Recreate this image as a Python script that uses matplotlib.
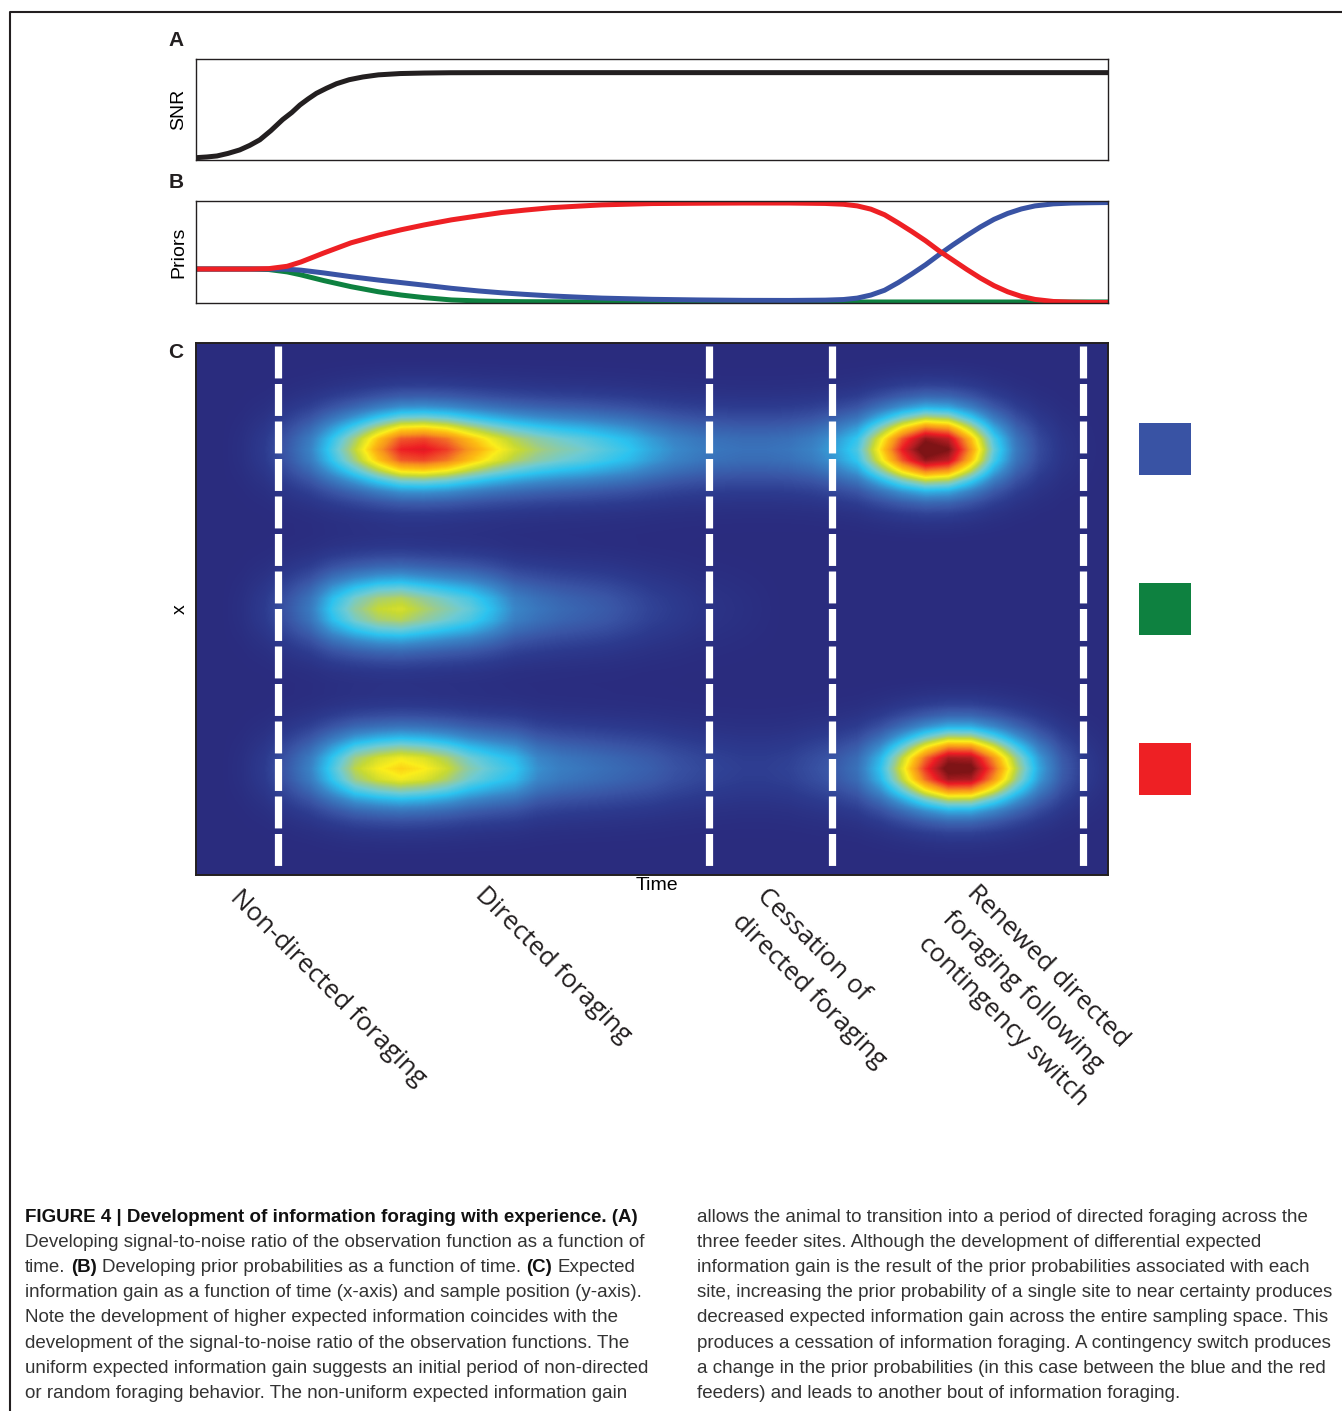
import numpy as np
import matplotlib
matplotlib.use('Agg')
import matplotlib.pyplot as plt
from matplotlib.colors import LinearSegmentedColormap
from matplotlib.lines import Line2D

plt.rcParams['font.family'] = ['Liberation Sans', 'DejaVu Sans']
plt.rcParams['lines.scale_dashes'] = False

W, H = 1342, 1411

# ---------------- data (time scaled 0..1) ----------------
# A: signal-to-noise ratio
snr_time = [0.0, 0.012, 0.023, 0.035, 0.048, 0.059, 0.07, 0.082, 0.095, 0.105,
            0.114, 0.123, 0.132, 0.143, 0.154, 0.168, 0.183, 0.20, 0.224, 0.25,
            0.279, 0.33, 0.4, 0.6, 0.8, 1.0]
snr_value = [0.023, 0.03, 0.04, 0.065, 0.10, 0.145, 0.20, 0.29, 0.40, 0.47,
             0.545, 0.605, 0.66, 0.71, 0.755, 0.795, 0.822, 0.843, 0.856, 0.861,
             0.864, 0.865, 0.865, 0.865, 0.865, 0.865]

# B: prior probabilities of the three feeders
prior_time = [0.0, 0.06, 0.08, 0.10, 0.115, 0.14, 0.17, 0.20, 0.225, 0.25,
              0.28, 0.31, 0.335, 0.36, 0.39, 0.42, 0.445, 0.50, 0.55, 0.60,
              0.65, 0.69, 0.71, 0.725, 0.74, 0.755, 0.77, 0.785, 0.80, 0.815,
              0.83, 0.845, 0.86, 0.875, 0.89, 0.905, 0.92, 0.94, 0.96, 0.98, 1.0]
prior_red = [0.333, 0.333, 0.337, 0.36, 0.402, 0.49, 0.59, 0.665, 0.718, 0.765,
             0.815, 0.855, 0.887, 0.91, 0.935, 0.95, 0.962, 0.975, 0.978, 0.98,
             0.98, 0.976, 0.968, 0.952, 0.92, 0.865, 0.785, 0.70, 0.61, 0.51,
             0.42, 0.33, 0.245, 0.17, 0.11, 0.065, 0.035, 0.015, 0.008, 0.005, 0.005]
prior_blue = [0.333, 0.333, 0.333, 0.331, 0.322, 0.295, 0.258, 0.225, 0.20, 0.175,
              0.144, 0.118, 0.10, 0.085, 0.069, 0.057, 0.048, 0.036, 0.03, 0.026,
              0.025, 0.028, 0.034, 0.048, 0.078, 0.125, 0.20, 0.285, 0.375, 0.475,
              0.57, 0.66, 0.745, 0.82, 0.878, 0.922, 0.952, 0.972, 0.98, 0.983, 0.985]
prior_green = [0.333, 0.333, 0.328, 0.305, 0.276, 0.22, 0.16, 0.11, 0.078, 0.053,
               0.03, 0.02, 0.015, 0.013, 0.012, 0.011, 0.01, 0.01, 0.01, 0.01,
               0.01, 0.01, 0.01, 0.01, 0.01, 0.01, 0.01, 0.01, 0.01, 0.01,
               0.01, 0.01, 0.01, 0.01, 0.01, 0.01, 0.01, 0.01, 0.01, 0.01, 0.01]

# C: expected information gain at each feeder row, sampled every 0.025 of time
heat_step = 0.025
gain_blue = [0.0, 0.0, 0.02, 0.06, 0.14, 0.24, 0.40, 0.56, 0.73, 0.87,
             0.89, 0.84, 0.74, 0.65, 0.575, 0.52, 0.48, 0.45, 0.41, 0.37,
             0.31, 0.26, 0.23, 0.21, 0.20, 0.20, 0.21, 0.24, 0.30, 0.40,
             0.64, 0.88, 1.05, 1.0, 0.74, 0.43, 0.22, 0.10, 0.04, 0.015, 0.0]
gain_green = [0.0, 0.0, 0.02, 0.06, 0.13, 0.22, 0.38, 0.49, 0.56, 0.58,
              0.53, 0.48, 0.43, 0.35, 0.25, 0.21, 0.18, 0.16, 0.14, 0.11,
              0.08, 0.06, 0.04, 0.03, 0.02, 0.01, 0.0, 0.0, 0.0, 0.0,
              0.0, 0.0, 0.0, 0.0, 0.0, 0.0, 0.0, 0.0, 0.0, 0.0, 0.0]
gain_red = [0.0, 0.0, 0.02, 0.06, 0.14, 0.24, 0.40, 0.55, 0.62, 0.66,
            0.63, 0.57, 0.48, 0.42, 0.37, 0.27, 0.23, 0.21, 0.19, 0.17,
            0.15, 0.12, 0.10, 0.08, 0.07, 0.07, 0.08, 0.11, 0.14, 0.20,
            0.36, 0.60, 0.85, 1.03, 1.02, 0.80, 0.54, 0.31, 0.15, 0.06, 0.02]
# relative gain at 0,1,2,... rows (0.02 apart) away from a feeder row
row_step = 0.02
spread = [1.0, 0.93, 0.74, 0.51, 0.31, 0.17, 0.08, 0.035, 0.012]

feeder_pos = [0.8, 0.5, 0.2]
feeder_colors = ['#3953A4', '#0E8140', '#EE2024']
phase_bounds = [0.090, 0.563, 0.697, 0.973]
phase_labels = [['Non-directed foraging'],
                ['Directed foraging'],
                ['Cessation of', 'directed foraging'],
                ['Renewed directed', 'foraging following', 'contingency switch']]
phase_anchor = [(229, 899), (474, 896), (756, 897), (966, 894)]

caption_left = [
    [('FIGURE 4 | Development of information foraging with experience. (A)', True)],
    [('Developing signal-to-noise ratio of the observation function as a function of', False)],
    [('time.', False), ('(B)', True), ('Developing prior probabilities as a function of time.', False),
     ('(C)', True), ('Expected', False)],
    [('information gain as a function of time (x-axis) and sample position (y-axis).', False)],
    [('Note the development of higher expected information coincides with the', False)],
    [('development of the signal-to-noise ratio of the observation functions. The', False)],
    [('uniform expected information gain suggests an initial period of non-directed', False)],
    [('or random foraging behavior. The non-uniform expected information gain', False)],
]
caption_right = [
    'allows the animal to transition into a period of directed foraging across the',
    'three feeder sites. Although the development of differential expected',
    'information gain is the result of the prior probabilities associated with each',
    'site, increasing the prior probability of a single site to near certainty produces',
    'decreased expected information gain across the entire sampling space. This',
    'produces a cessation of information foraging. A contingency switch produces',
    'a change in the prior probabilities (in this case between the blue and the red',
    'feeders) and leads to another bout of information foraging.',
]

# ---------------- figure ----------------
fig = plt.figure(figsize=(W / 100, H / 100), dpi=100)
ink = '#231F20'


def px_axes(x0, y0, x1, y1):
    return fig.add_axes([x0 / W, 1 - y1 / H, (x1 - x0) / W, (y1 - y0) / H])


def frame(ax, lw=1.0):
    ax.set_xticks([])
    ax.set_yticks([])
    for s in ax.spines.values():
        s.set_linewidth(lw)
        s.set_color(ink)


# outer border of the figure box
fig.add_artist(Line2D([10 / W, 10 / W, 1.0], [0.0, 1 - 12 / H, 1 - 12 / H],
                      transform=fig.transFigure, color=ink, lw=1.5))

# A
axA = px_axes(196, 59, 1108, 160)
axA.plot(snr_time, snr_value, color=ink, lw=3.6, solid_capstyle='butt',
         solid_joinstyle='round')
axA.set_xlim(0, 1)
axA.set_ylim(0, 1)
frame(axA)
axA.set_ylabel('SNR', fontsize=14, labelpad=6.5)

# B
axB = px_axes(196, 201, 1108, 303)
for vals, col in [(prior_green, feeder_colors[1]), (prior_blue, feeder_colors[0]),
                  (prior_red, feeder_colors[2])]:
    axB.plot(prior_time, vals, color=col, lw=3.6, solid_joinstyle='round')
axB.set_xlim(0, 1)
axB.set_ylim(0, 1)
frame(axB)
axB.set_ylabel('Priors', fontsize=14, labelpad=6.5)

# C
cmap = LinearSegmentedColormap.from_list('jet_print', [
    (0.00, '#2A2C7E'), (0.06, '#2D3B8F'), (0.12, '#3953A4'), (0.25, '#3A86C8'),
    (0.36, '#2CC3F0'), (0.44, '#6DCBD5'), (0.50, '#98CB94'), (0.56, '#C6D934'),
    (0.625, '#FBEE1B'), (0.69, '#FDBB13'), (0.75, '#F7941D'), (0.81, '#F15A29'),
    (0.875, '#ED1C24'), (0.94, '#B41E23'), (1.00, '#7E1416')])

n_rows = int(round(1 / row_step)) + 1
Z = np.zeros((n_rows, len(gain_blue)))
for pos, amp in zip(feeder_pos, [gain_blue, gain_green, gain_red]):
    r0 = int(round(pos / row_step))
    for k, s in enumerate(spread):
        for r in {r0 - k, r0 + k}:
            if 0 <= r < n_rows:
                Z[r] += s * np.asarray(amp)

axC = px_axes(196, 343, 1108, 875)
axC.imshow(Z, cmap=cmap, vmin=0, vmax=1, origin='lower', aspect='auto',
           interpolation='bilinear',
           extent=[-heat_step / 2, 1 + heat_step / 2, -row_step / 2, 1 + row_step / 2])
for b in phase_bounds:
    axC.plot([b, b], [0.9944, 0.0094], color='white', lw=5.2,
             dashes=(23, 4), dash_capstyle='butt')
axC.set_xlim(0, 1)
axC.set_ylim(0, 1)
frame(axC, 1.4)
axC.set_ylabel('x', fontsize=14, labelpad=5)
axC.set_xlabel('Time', fontsize=14, labelpad=1.5)
axC.xaxis.label.set_x(0.505)

# colour key for the feeders
axK = px_axes(1139, 343, 1191, 875)
axK.barh(feeder_pos, 1, height=52 / 532, left=0, color=feeder_colors)
axK.set_xlim(0, 1)
axK.set_ylim(0, 1)
axK.axis('off')

# panel letters
for letter, y in [('A', 41), ('B', 182), ('C', 352)]:
    fig.text(176 / W, 1 - y / H, letter, fontsize=15, fontweight='bold',
             ha='center', va='center', color=ink)

renderer = fig.canvas.get_renderer()


def width_px(s, size, weight='normal', family=None):
    t = fig.text(0, 0, s, fontsize=size, fontweight=weight, family=family)
    w = t.get_window_extent(renderer).width
    t.remove()
    return w


# phase labels under panel C
lab_font = ['Open Sans', 'DejaVu Sans']
lab_size = 17 * 210 / width_px('Directed foraging', 17, family=lab_font)
for lines, (ax0, ay0) in zip(phase_labels, phase_anchor):
    for i, line in enumerate(lines):
        x = ax0 - 24.5 * i
        y = ay0 + 25.5 * i
        fig.text(x / W, 1 - y / H, line, fontsize=lab_size, family=lab_font,
                 rotation=-45, rotation_mode='anchor', ha='left', va='baseline',
                 color=ink)

# caption
body = 13 * 624 / width_px(caption_left[6][0][0], 13)
title = 13 * 612 / width_px(caption_left[0][0][0], 13, 'bold')


def draw_line(x_px, y_px, runs):
    x = x_px
    for i, (s, bold) in enumerate(runs):
        wt = 'bold' if bold else 'normal'
        size = title if (bold and len(runs) == 1) else body
        col = '#111111' if bold else '#333333'
        fig.text(x / W, 1 - y_px / H, s, fontsize=size, fontweight=wt,
                 color=col, ha='left', va='baseline')
        # advance by the run plus one following space
        x += width_px(s + ' n', size, wt) - width_px('n', size, wt)


for i, runs in enumerate(caption_left):
    draw_line(25, 1222 + 25.1 * i, runs)
for i, line in enumerate(caption_right):
    draw_line(697, 1222 + 25.1 * i, [(line, False)])

fig.savefig('out.png', dpi=100)
